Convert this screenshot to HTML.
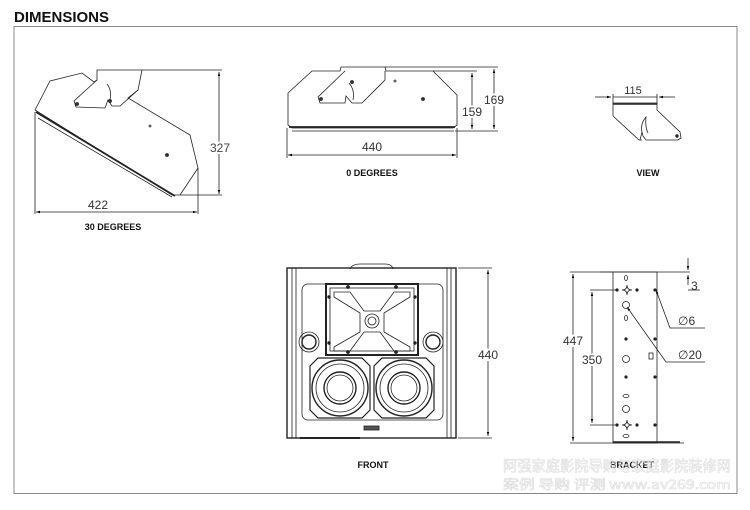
<!DOCTYPE html>
<html><head><meta charset="utf-8"><style>
html,body{margin:0;padding:0;background:#fff;}
svg{display:block;}
text{font-family:"Liberation Sans","DejaVu Sans",sans-serif;}
</style></head><body>
<svg width="750" height="510" viewBox="0 0 750 510" xmlns="http://www.w3.org/2000/svg">
<defs>
<marker id="a" viewBox="0 0 10 10" refX="10" refY="5" markerWidth="7" markerHeight="5" orient="auto-start-reverse"><path d="M0,2 L10,5 L0,8 z" fill="#000"/></marker>
</defs>
<text x="14" y="22" font-size="15" font-weight="bold" fill="#111">DIMENSIONS</text>
<rect x="14" y="26.5" width="723" height="467" fill="none" stroke="#888" stroke-width="1"/>

<g fill="none" stroke="#222" stroke-width="0.8">
<path d="M35,110 L50,81 L82,73 L94,82 L97,80 L97,70 L142,70 L138,90 L128,98 L190,135 L198,168 L180,195 L172,195 Z" fill="#fff"/>
<path d="M97,80 L74,101 L76,107 L105,108 L108,100 L112,106 L120,106 L138,90"/>
<path d="M36,112 L175,196" stroke-width="1.8"/>
<path d="M38,118 L172,197"/>
<circle cx="77" cy="104" r="1.5" fill="#333"/><circle cx="110" cy="101" r="1.5" fill="#333"/>
<circle cx="167" cy="155" r="1.5" fill="#333"/><circle cx="150" cy="126" r="1"/>
<path d="M107,84 Q112,90 110,100"/>
<path d="M142,70 L222,70 M180,195 L222,195 M35,112 L35,214 M198,168 L198,214"/>
<path d="M219,72 L219,194" marker-start="url(#a)" marker-end="url(#a)"/>
<path d="M36,212 L197,212" marker-start="url(#a)" marker-end="url(#a)"/>

<path d="M288,93 L312,71 L340,71 L341,67 L385,67 L386,71 L433,71 L457,95 L457,125 L453,128 L292,128 L288,125 Z" fill="#fff"/>
<path d="M345,71 L318,97 L320,103 L345,103 L346,96 L352,103 L362,103 L385,80 L385,71"/>
<path d="M289,127 L455,127" stroke-width="1.8"/>
<path d="M292,131 L454,131"/>
<circle cx="321" cy="99" r="1.5" fill="#333"/><circle cx="352" cy="82" r="1.5" fill="#333"/>
<circle cx="423" cy="99" r="1.5" fill="#333"/><circle cx="395" cy="81" r="1"/>
<path d="M349,83 Q355,90 353,100"/>
<path d="M433,71 L477,71 M385,67 L498,67 M455,131 L498,131 M287,128 L287,158 M457,128 L457,158"/>
<path d="M472,73 L472,129" marker-start="url(#a)" marker-end="url(#a)"/>
<path d="M494,69 L494,129" marker-start="url(#a)" marker-end="url(#a)"/>
<path d="M288,155 L456,155" marker-start="url(#a)" marker-end="url(#a)"/>

<path d="M613,103 L657,103 L657,110 L680,132 L681,138 L678,140 L646,140 L643,136 L642,132 L640,140 L642,140 L639,140 L613,116 Z" fill="#fff"/>
<path d="M613,104 L657,104" stroke-width="1.6"/>
<path d="M642,132 Q640,124 646,117 Q645,127 648,133"/>
<circle cx="677" cy="136" r="1.3" fill="#333"/>
<path d="M595,97 L611,97" marker-end="url(#a)"/><path d="M675,97 L659,97" marker-end="url(#a)"/>
<path d="M613,97 L657,97 M613,94 L613,104 M657,94 L657,104"/>

<rect x="287" y="268" width="169" height="170" fill="#fff" stroke-width="1.4"/>
<path d="M292,268 L292,438 M451,268 L451,438 M296,268 L296,438 M447,268 L447,438"/>
<path d="M350,269 Q352,264 360,264 L385,264 Q392,264 393,269"/>
<rect x="302" y="284" width="141" height="136" rx="6"/>
<rect x="326" y="284" width="92" height="71" stroke-width="2"/>
<rect x="330" y="288" width="84" height="63"/>
<path d="M334,292 L350,292 L364,311 L380,311 L394,292 L410,292 L410,297 L384,313 L384,332 L410,347 L410,351 L394,351 L380,332 L364,332 L350,351 L334,351 L334,347 L360,332 L360,313 L334,297 Z"/>
<circle cx="372" cy="321" r="7"/><circle cx="372" cy="321" r="4"/>
<g fill="#222"><circle cx="348" cy="287" r="1.5"/><circle cx="396" cy="287" r="1.5"/><circle cx="348" cy="352" r="1.5"/><circle cx="396" cy="352" r="1.5"/><circle cx="329" cy="297" r="1.3"/><circle cx="415" cy="297" r="1.3"/><circle cx="329" cy="343" r="1.3"/><circle cx="415" cy="343" r="1.3"/></g>
<circle cx="309" cy="342" r="10"/><circle cx="309" cy="342" r="7" stroke-width="1.4"/>
<circle cx="433" cy="342" r="10"/><circle cx="433" cy="342" r="7" stroke-width="1.4"/>
<path d="M318,358 L362,358 L370,366 L370,410 L362,418 L318,418 L310,410 L310,366 Z" stroke-width="1.2"/>
<path d="M382,358 L426,358 L434,366 L434,410 L426,418 L382,418 L374,410 L374,366 Z" stroke-width="1.2"/>
<circle cx="340" cy="388" r="28" stroke-width="1.4"/><circle cx="340" cy="388" r="24"/><circle cx="340" cy="388" r="16" stroke-width="1.4"/><circle cx="340" cy="388" r="13"/>
<circle cx="404" cy="388" r="28" stroke-width="1.4"/><circle cx="404" cy="388" r="24"/><circle cx="404" cy="388" r="16" stroke-width="1.4"/><circle cx="404" cy="388" r="13"/>
<rect x="364" y="426" width="15" height="4" fill="#555"/>
<path d="M300,438 L360,438" stroke-width="2"/>
<path d="M458,268 L492,268 M458,438 L492,438"/>
<path d="M488,270 L488,436" marker-start="url(#a)" marker-end="url(#a)"/>

<rect x="613" y="272" width="44" height="171" fill="#fff"/>
<path d="M600,272 L690,272 M613,443 L684,443" />
<path d="M613,442 L680,442" stroke-width="1.6"/>
<path d="M570,272 L613,272 M570,443 L613,443 M590,290 L618,290 M590,425 L618,425"/>
<path d="M573,274 L573,441" marker-start="url(#a)" marker-end="url(#a)"/>
<path d="M592,292 L592,423" marker-start="url(#a)" marker-end="url(#a)"/>
<path d="M688,258 L688,270" marker-end="url(#a)"/><path d="M688,285 L688,275" marker-end="url(#a)"/>
<path d="M688,290 L700,290"/>
<path d="M656,290 L670,328 L705,328" marker-start="url(#a)"/>
<path d="M627,307 L666,362 L705,362" marker-start="url(#a)"/>
<g fill="#222"><circle cx="617" cy="290" r="1.2"/><circle cx="637" cy="290" r="1.2"/><circle cx="655" cy="290" r="1.2"/><circle cx="626" cy="339" r="1.2"/><circle cx="655" cy="339" r="1.2"/><circle cx="626" cy="377" r="1.2"/><circle cx="655" cy="377" r="1.2"/><circle cx="617" cy="425" r="1.2"/><circle cx="637" cy="425" r="1.2"/><circle cx="655" cy="425" r="1.2"/></g>
<path d="M627,285 Q627,290 622,290 Q627,290 627,295 Q627,290 632,290 Q627,290 627,285 Z"/>
<path d="M627,420 Q627,425 622,425 Q627,425 627,430 Q627,425 632,425 Q627,425 627,420 Z"/>
<circle cx="626" cy="305" r="3.5"/><circle cx="626" cy="359" r="3.5"/><circle cx="626" cy="409" r="3.5"/>
<ellipse cx="626" cy="278" rx="1.5" ry="2.5"/><ellipse cx="626" cy="318" rx="1.5" ry="2.5"/>
<ellipse cx="626" cy="396" rx="3" ry="1.5"/><ellipse cx="626" cy="436" rx="3" ry="1.5"/>
<rect x="649" y="353" width="4" height="6"/>
</g>

<g font-size="12" fill="#333">
<text x="98" y="209" text-anchor="middle">422</text>
<text x="220" y="152" text-anchor="middle" fill="#444" style="paint-order:stroke" stroke="#fff" stroke-width="4">327</text>
<text x="372" y="151" text-anchor="middle">440</text>
<text x="472" y="116" text-anchor="middle" stroke="#fff" stroke-width="4" style="paint-order:stroke">159</text>
<text x="494" y="104" text-anchor="middle" stroke="#fff" stroke-width="4" style="paint-order:stroke">169</text>
<text x="633" y="94" text-anchor="middle" font-size="11">115</text>
<text x="488" y="359" text-anchor="middle" stroke="#fff" stroke-width="4" style="paint-order:stroke">440</text>
<text x="573" y="345" text-anchor="middle" stroke="#fff" stroke-width="4" style="paint-order:stroke">447</text>
<text x="592" y="364" text-anchor="middle" stroke="#fff" stroke-width="4" style="paint-order:stroke">350</text>
<text x="691" y="290">3</text>
<text x="678" y="325">∅6</text>
<text x="678" y="359">∅20</text>
</g>
<g font-size="9" font-weight="bold" fill="#111" text-anchor="middle">
<text x="113" y="230">30 DEGREES</text>
<text x="372" y="176">0 DEGREES</text>
<text x="648" y="176">VIEW</text>
<text x="373" y="468">FRONT</text>
<text x="632" y="468">BRACKET</text>
</g>
<g fill="none" stroke="#ddd" stroke-width="0.6" font-size="15">
<text x="503" y="471" textLength="228" lengthAdjust="spacingAndGlyphs" style="font-family:'Noto Sans CJK SC',sans-serif">阿强家庭影院导购与家庭影院装修网</text>
<text x="503" y="489" font-size="13" textLength="228" lengthAdjust="spacingAndGlyphs" style="font-family:'Noto Sans CJK SC',sans-serif">案例 导购 评测  www.av269.com</text>
</g>
</svg>
</body></html>
